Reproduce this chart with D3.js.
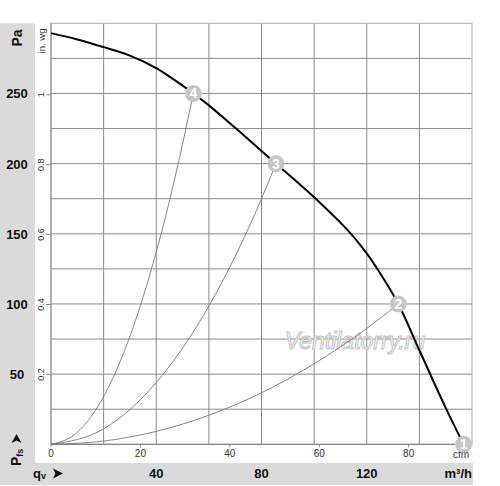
<!DOCTYPE html>
<html>
<head>
<meta charset="utf-8">
<script src="https://cdn.jsdelivr.net/npm/d3@7"></script>
<style>
  body { margin: 0; background: #fff; }
  svg { display: block; font-family: "Liberation Sans", Arial, sans-serif; }
</style>
</head>
<body>
<div class="chart"></div>
<script>
// fan curve, m3/h vs Pa
var fanCurve = [
  [0, 293], [10, 288.5], [20, 283], [30, 277], [40, 268], [54.1, 250],
  [60, 241.5], [70, 225.5], [80, 209], [85.5, 200], [100, 176], [114, 150],
  [120, 136], [124, 125], [132, 100], [140, 67], [150, 26], [156.8, 0]
];

// system curves through the operating points
var sys4 = [[0, 0], [10, 8.5], [20, 34], [30, 77], [40, 137], [47, 189], [54.1, 250]];
var sys3 = [[0, 0], [20, 11], [40, 44], [60, 98.5], [70, 134], [80, 175], [85.5, 200]];
var sys2 = [[0, 0], [20, 2.3], [40, 9.2], [60, 20.7], [80, 36.7], [100, 57.4], [120, 82.6], [132, 100]];

// numbered operating points
var points = [
  { n: '1', q: 156.8, p: 0 },
  { n: '2', q: 132, p: 100 },
  { n: '3', q: 85.5, p: 200 },
  { n: '4', q: 54.1, p: 250 }
];

var paTicks = [50, 100, 150, 200, 250];
var inwgTicks = [0.2, 0.4, 0.6, 0.8, 1];
var m3hTicks = [40, 80, 120];
var cfmTicks = [0, 20, 40, 60, 80];

var W = 500, H = 486;
// plot box (window.top is reserved, so use own names)
var pL = 51, pR = 472, pT = 23.3, pB = 444.3;

var x = d3.scaleLinear().domain([0, 160]).range([pL, pR]);
var y = d3.scaleLinear().domain([0, 300]).range([pB, pT]);
// secondary units
var xCfm = d3.scaleLinear().domain([0, 160 / 1.699]).range([pL, pR]);
var yInwg = d3.scaleLinear().domain([0, 300 / 249.09]).range([pB, pT]);

var svg = d3.select('.chart')
  .append('svg')
    .attr('width', W)
    .attr('height', H);

// gray label panels
svg.append('rect')
  .attr('x', 0).attr('y', pT)
  .attr('width', 35).attr('height', 485 - pT)
  .attr('fill', '#dadada');
svg.append('rect')
  .attr('x', 0).attr('y', 463)
  .attr('width', 473).attr('height', 22)
  .attr('fill', '#dadada');

// grid
svg.append('g')
  .selectAll('line')
  .data(d3.range(20, 160, 20))
  .enter()
    .append('line')
    .attr('x1', d => x(d)).attr('x2', d => x(d))
    .attr('y1', pT).attr('y2', pB)
    .attr('stroke', '#8a8a8a')
    .attr('stroke-width', 1);

svg.append('g')
  .selectAll('line')
  .data(d3.range(25, 300, 25))
  .enter()
    .append('line')
    .attr('x1', pL).attr('x2', pR)
    .attr('y1', d => y(d)).attr('y2', d => y(d))
    .attr('stroke', '#8a8a8a')
    .attr('stroke-width', 1);

// frame
svg.append('rect')
  .attr('x', pL).attr('y', pT)
  .attr('width', pR - pL).attr('height', pB - pT)
  .attr('fill', 'none')
  .attr('stroke', '#aaa')
  .attr('stroke-width', 1);
svg.append('line')
  .attr('x1', pL).attr('x2', pR)
  .attr('y1', pB).attr('y2', pB)
  .attr('stroke', '#777');
svg.append('line')
  .attr('x1', pL).attr('x2', pL)
  .attr('y1', pT).attr('y2', pB)
  .attr('stroke', '#888');

// in. wg axis (rotated labels)
var inwg = svg.append('g').selectAll('g')
  .data(inwgTicks)
  .enter()
    .append('g')
    .attr('transform', d => 'translate(0,' + yInwg(d) + ')');
inwg.append('line')
  .attr('x1', 46).attr('x2', pL)
  .attr('stroke', '#888');
inwg.append('text')
  .attr('transform', 'translate(44,0) rotate(-90)')
  .attr('text-anchor', 'middle')
  .attr('font-size', 9)
  .attr('fill', '#333')
  .text(d => d);

svg.append('text')
  .attr('transform', 'translate(45,41) rotate(-90)')
  .attr('text-anchor', 'middle')
  .attr('font-size', 9.5)
  .attr('fill', '#333')
  .text('in. wg');

// cfm axis
var cfm = svg.append('g').selectAll('g')
  .data(cfmTicks)
  .enter()
    .append('g')
    .attr('transform', d => 'translate(' + xCfm(d) + ',0)');
cfm.append('line')
  .attr('y1', pB).attr('y2', pB + 3)
  .attr('stroke', '#888');
cfm.append('text')
  .attr('y', 457)
  .attr('text-anchor', 'middle')
  .attr('font-size', 10)
  .attr('fill', '#333')
  .text(d => d);
svg.append('text')
  .attr('x', 461).attr('y', 458)
  .attr('text-anchor', 'middle')
  .attr('font-size', 10)
  .attr('fill', '#333')
  .text('cfm');

// Pa labels in the left panel
svg.append('g').selectAll('text')
  .data(paTicks)
  .enter()
    .append('text')
    .attr('x', 17)
    .attr('y', d => y(d) + 5)
    .attr('text-anchor', 'middle')
    .attr('font-size', 13)
    .attr('font-weight', 'bold')
    .attr('fill', '#111')
    .text(d => d);

svg.append('text')
  .attr('transform', 'translate(22,38) rotate(-90)')
  .attr('text-anchor', 'middle')
  .attr('font-size', 14)
  .attr('font-weight', 'bold')
  .attr('fill', '#111')
  .text('Pa');

// P fs label with arrow
var pfs = svg.append('text')
  .attr('transform', 'translate(21,466) rotate(-90)')
  .attr('font-weight', 'bold')
  .attr('fill', '#111');
pfs.append('tspan').attr('font-size', 14).text('P');
pfs.append('tspan').attr('font-size', 9).attr('dy', 2).text('fs');
svg.append('path')
  .attr('d', 'M16.5,434 L21.5,443 L16.5,440.5 L11.5,443 Z')
  .attr('fill', '#111');

// m3/h labels in the bottom panel
svg.append('g').selectAll('text')
  .data(m3hTicks)
  .enter()
    .append('text')
    .attr('x', d => x(d))
    .attr('y', 478)
    .attr('text-anchor', 'middle')
    .attr('font-size', 13)
    .attr('font-weight', 'bold')
    .attr('fill', '#111')
    .text(d => d);

svg.append('text')
  .attr('x', 472).attr('y', 478)
  .attr('text-anchor', 'end')
  .attr('font-size', 13)
  .attr('font-weight', 'bold')
  .attr('fill', '#111')
  .text('m³/h');

var qv = svg.append('text')
  .attr('x', 33).attr('y', 478)
  .attr('font-weight', 'bold')
  .attr('fill', '#111');
qv.append('tspan').attr('font-size', 13).text('q');
qv.append('tspan').attr('font-size', 9).attr('dy', 1).text('v');
svg.append('path')
  .attr('d', 'M63,473.5 L53,468.5 L55.5,473.5 L53,478.5 Z')
  .attr('fill', '#111');

// watermark
svg.append('text')
  .attr('x', 355).attr('y', 349)
  .attr('text-anchor', 'middle')
  .attr('font-size', 23)
  .attr('font-style', 'italic')
  .attr('fill', '#fff')
  .attr('stroke', '#c2c2c2')
  .attr('stroke-width', 1)
  .text('Ventilatorry.ru');

var line = d3.line()
  .x(d => x(d[0]))
  .y(d => y(d[1]))
  .curve(d3.curveMonotoneX);

// system curves
[sys2, sys3, sys4].forEach(function(s) {
  svg.append('path')
    .datum(s)
    .attr('d', line)
    .attr('fill', 'none')
    .attr('stroke', '#777')
    .attr('stroke-width', 0.9);
});

// fan curve
svg.append('path')
  .datum(fanCurve)
  .attr('d', d3.line().x(d => x(d[0])).y(d => y(d[1])).curve(d3.curveCatmullRom))
  .attr('fill', 'none')
  .attr('stroke', '#000')
  .attr('stroke-width', 2);

// operating points
var pt = svg.append('g').selectAll('g')
  .data(points)
  .enter()
    .append('g')
    .attr('transform', d => 'translate(' + x(d.q) + ',' + y(d.p) + ')');
pt.append('circle')
  .attr('r', 8.5)
  .attr('fill', '#c6c6c6');
pt.append('text')
  .attr('y', 5)
  .attr('text-anchor', 'middle')
  .attr('font-size', 14)
  .attr('font-weight', 'bold')
  .attr('fill', '#fff')
  .text(d => d.n);
</script>
</body>
</html>
